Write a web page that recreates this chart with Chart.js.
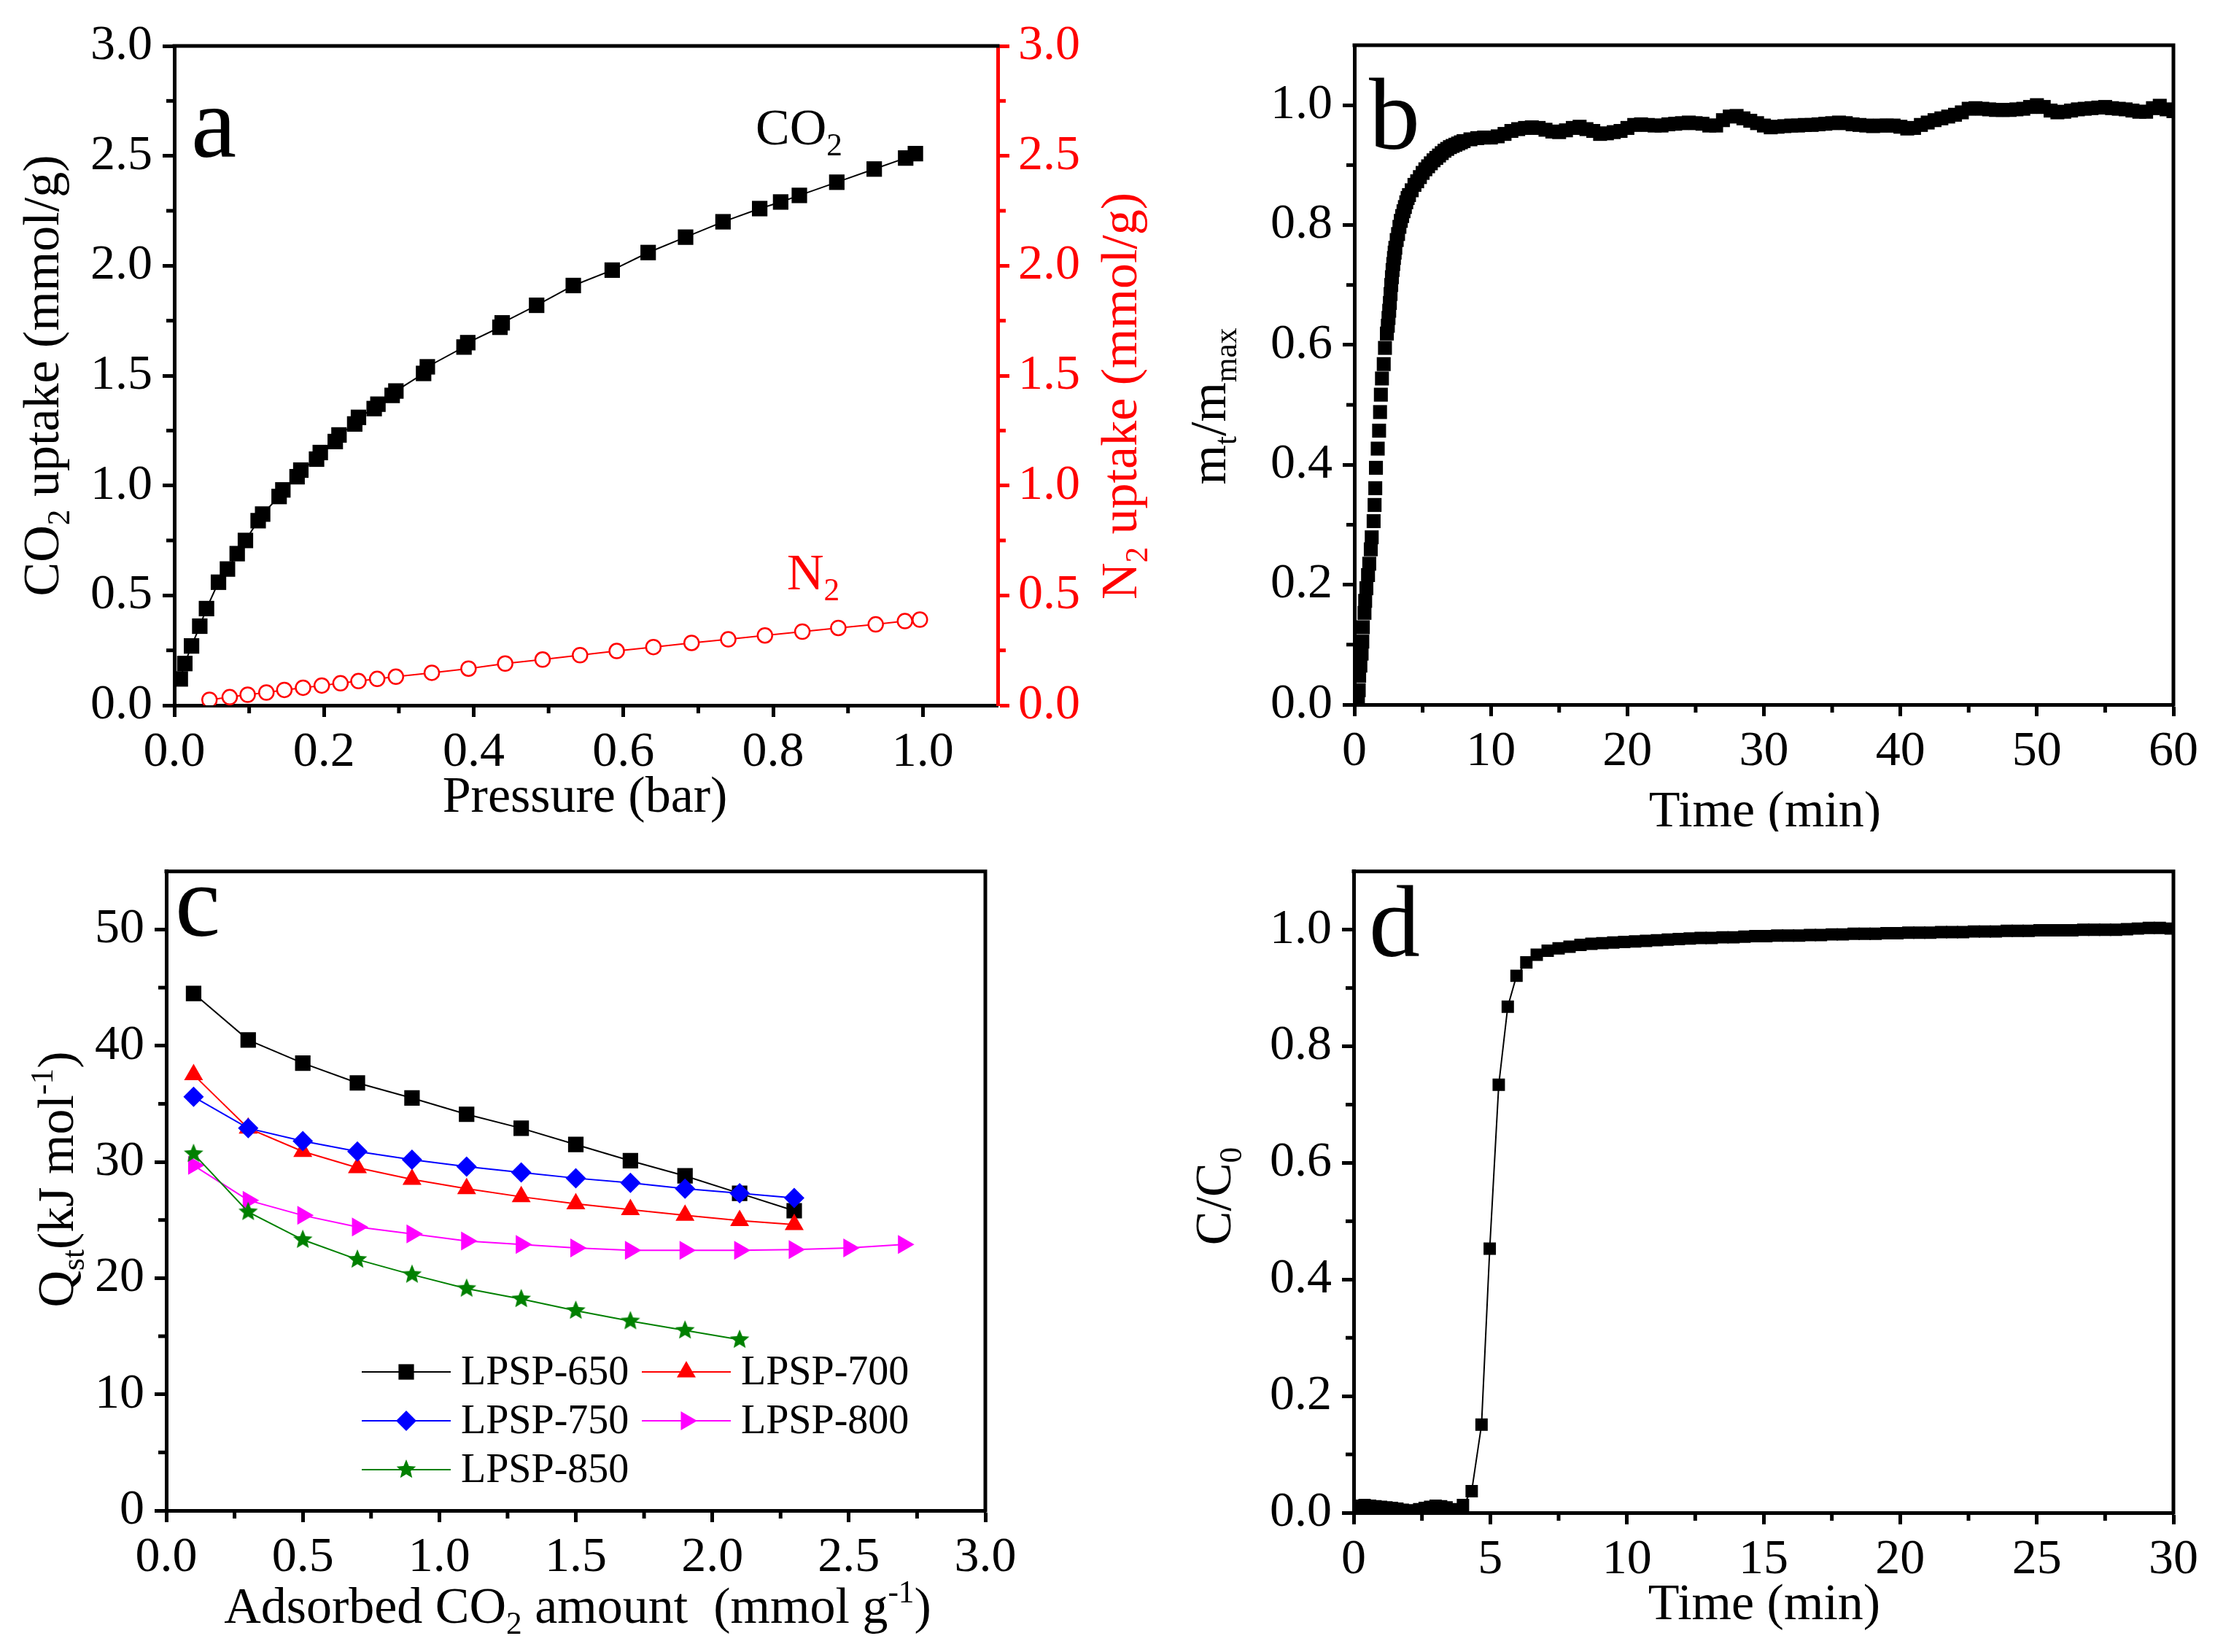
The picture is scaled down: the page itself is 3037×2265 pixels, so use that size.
<!DOCTYPE html>
<html>
<head>
<meta charset="utf-8">
<script src="https://cdn.jsdelivr.net/npm/chart.js@4.4.0/dist/chart.umd.min.js"></script>
<style>
body { margin: 0; background: #fff; width: 3037px; height: 2265px; position: relative; overflow: hidden; }
canvas { position: absolute; }
</style>
</head>
<body>
<canvas id="chartA" width="1600" height="1140" style="left:0;top:0"></canvas>
<canvas id="chartB" width="1437" height="1140" style="left:1600px;top:0"></canvas>
<canvas id="chartC" width="1600" height="1125" style="left:0;top:1140px"></canvas>
<canvas id="chartD" width="1437" height="1125" style="left:1600px;top:1140px"></canvas>
<script>
// Panel a: CO2 / N2 isotherms
var co2Pressure = [0.008, 0.014, 0.023, 0.034, 0.043, 0.059, 0.071, 0.084, 0.095, 0.112, 0.118, 0.14, 0.145, 0.164, 0.169,
    0.19, 0.195, 0.215, 0.22, 0.241, 0.246, 0.267, 0.272, 0.291, 0.296, 0.333, 0.338, 0.387, 0.392, 0.435, 0.438,
    0.484, 0.533, 0.585, 0.633, 0.683, 0.733, 0.782, 0.81, 0.835, 0.885, 0.935, 0.977, 0.99];
var co2Uptake = [0.12, 0.19, 0.27, 0.36, 0.44, 0.56, 0.62, 0.69, 0.75, 0.84, 0.87, 0.95, 0.98, 1.04, 1.07,
    1.12, 1.15, 1.20, 1.23, 1.28, 1.31, 1.35, 1.37, 1.41, 1.43, 1.51, 1.54, 1.63, 1.65, 1.72, 1.74,
    1.82, 1.91, 1.98, 2.06, 2.13, 2.20, 2.26, 2.29, 2.32, 2.38, 2.44, 2.49, 2.51];
var n2Pressure = [0.047, 0.074, 0.098, 0.123, 0.147, 0.172, 0.197, 0.222, 0.246, 0.271, 0.296, 0.344, 0.393,
    0.442, 0.492, 0.542, 0.591, 0.640, 0.691, 0.740, 0.789, 0.839, 0.887, 0.937, 0.976, 0.996];
var n2Uptake = [0.025, 0.037, 0.048, 0.058, 0.07, 0.08, 0.09, 0.1, 0.11, 0.12, 0.13, 0.148, 0.167,
    0.19, 0.208, 0.228, 0.247, 0.265, 0.284, 0.3, 0.318, 0.335, 0.352, 0.368, 0.383, 0.39];

// Panel b: uptake kinetics
var kinTime = [0.26, 0.32, 0.35, 0.44, 0.53, 0.58, 0.62, 0.74, 0.79, 0.88, 1.0, 1.09, 1.2, 1.27, 1.41, 1.48, 1.53,
    1.58, 1.71, 1.81, 1.88, 1.94, 2.02, 2.15, 2.24, 2.38,
    2.45, 2.5, 2.55, 2.6, 2.65, 2.7, 2.75, 2.8, 2.85, 2.9, 2.95, 3.0, 3.1, 3.2, 3.3, 3.4, 3.5, 3.6, 3.7, 3.8, 3.9, 4.0,
    4.2, 4.4, 4.6, 4.8, 5.0, 5.2, 5.4, 5.6, 5.8, 6.0, 6.2, 6.4, 6.6, 6.8, 7.0, 7.2, 7.4, 7.6, 7.8, 8.0,
    8.5, 9, 9.5, 10, 10.5, 11, 11.5, 12, 12.5, 13, 13.5, 14, 14.5, 15, 15.5, 16, 16.5, 17, 17.5, 18,
    18.5, 19, 19.5, 20, 20.5, 21, 21.5, 22, 22.5, 23, 23.5, 24, 24.5, 25, 25.5, 26, 26.5, 27, 27.5, 28,
    28.5, 29, 29.5, 30, 30.5, 31, 31.5, 32, 32.5, 33, 33.5, 34, 34.5, 35, 35.5, 36, 36.5, 37, 37.5, 38,
    38.5, 39, 39.5, 40, 40.5, 41, 41.5, 42, 42.5, 43, 43.5, 44, 44.5, 45, 45.5, 46, 46.5, 47, 47.5, 48,
    48.5, 49, 49.5, 50, 50.5, 51, 51.5, 52, 52.5, 53, 53.5, 54, 54.5, 55, 55.5, 56, 56.5, 57, 57.5, 58,
    58.5, 59, 59.5, 60];
var kinRatio = [0.003, 0.024, 0.048, 0.065, 0.085, 0.105, 0.129, 0.153, 0.173, 0.194, 0.216, 0.235, 0.259, 0.279, 0.306, 0.333, 0.361,
    0.395, 0.427, 0.457, 0.488, 0.517, 0.544, 0.568, 0.595, 0.619,
    0.632, 0.645, 0.657, 0.67, 0.685, 0.70, 0.713, 0.725, 0.735, 0.745, 0.754, 0.762, 0.775, 0.785, 0.797, 0.807, 0.815, 0.823, 0.83, 0.838, 0.845, 0.85,
    0.858, 0.867, 0.873, 0.88, 0.887, 0.893, 0.898, 0.903, 0.908, 0.912, 0.916, 0.92, 0.924, 0.927, 0.93, 0.932, 0.934, 0.936, 0.938, 0.94,
    0.943, 0.945, 0.946, 0.946, 0.948, 0.952, 0.957, 0.96, 0.962, 0.963, 0.962, 0.959, 0.956, 0.955, 0.958, 0.962, 0.964, 0.96, 0.957, 0.952,
    0.953, 0.955, 0.957, 0.962, 0.967, 0.968, 0.967, 0.966, 0.966, 0.968, 0.969, 0.97, 0.971, 0.97, 0.969, 0.966, 0.966, 0.975, 0.981, 0.982,
    0.978, 0.974, 0.97, 0.966, 0.963, 0.964, 0.965, 0.966, 0.966, 0.967, 0.967, 0.968, 0.969, 0.97, 0.971, 0.97, 0.968, 0.967, 0.966, 0.965,
    0.966, 0.966, 0.966, 0.964, 0.961, 0.962, 0.967, 0.971, 0.975, 0.978, 0.981, 0.984, 0.988, 0.994, 0.995, 0.994, 0.993, 0.992, 0.992, 0.992,
    0.993, 0.994, 0.997, 1.0, 0.997, 0.991, 0.988, 0.989, 0.991, 0.993, 0.994, 0.995, 0.996, 0.997, 0.995, 0.994, 0.993, 0.991, 0.989, 0.989,
    0.995, 0.999, 0.993, 0.99];

// Panel c: isosteric heat
var qstLoading = [0.1, 0.3, 0.5, 0.7, 0.9, 1.1, 1.3, 1.5, 1.7, 1.9, 2.1, 2.3, 2.5, 2.7];
var qst650 = [44.5, 40.5, 38.5, 36.8, 35.5, 34.1, 32.9, 31.5, 30.1, 28.8, 27.3, 25.8];
var qst700 = [37.5, 32.9, 30.9, 29.5, 28.5, 27.7, 27.0, 26.4, 25.9, 25.4, 24.95, 24.6];
var qst750 = [35.6, 32.9, 31.8, 30.9, 30.2, 29.6, 29.1, 28.6, 28.2, 27.7, 27.3, 26.9];
var qst800 = [29.7, 26.7, 25.4, 24.4, 23.8, 23.2, 22.9, 22.6, 22.4, 22.4, 22.4, 22.45, 22.6, 22.9];
var qst850 = [30.7, 25.7, 23.3, 21.6, 20.3, 19.1, 18.2, 17.2, 16.3, 15.5, 14.7];
var qstNames = ['LPSP-650', 'LPSP-700', 'LPSP-750', 'LPSP-800', 'LPSP-850'];

// Panel d: breakthrough curve
var btTime = [0.2, 0.4, 0.6, 0.8, 1.0, 1.2, 1.4, 1.6, 1.8, 2.0, 2.2, 2.4, 2.6, 2.8, 3.0, 3.2, 3.4, 3.6, 3.8, 4.0,
    4.32, 4.68, 4.98, 5.31, 5.64, 5.96, 6.32,
    6.7, 7.1, 7.5, 7.9, 8.3, 8.7, 9.1, 9.5, 9.9, 10.3, 10.7, 11.1, 11.5, 11.9, 12.3, 12.7, 13.1, 13.5, 13.9, 14.3,
    14.7, 15.1, 15.5, 15.9, 16.3, 16.7, 17.1, 17.5, 17.9, 18.3, 18.7, 19.1, 19.5, 19.9, 20.3, 20.7, 21.1, 21.5,
    21.9, 22.3, 22.7, 23.1, 23.5, 23.9, 24.3, 24.7, 25.1, 25.5, 25.9, 26.3, 26.7, 27.1, 27.5, 27.9, 28.3, 28.7,
    29.1, 29.5, 29.9];
var btRatio = [0.012, 0.013, 0.012, 0.011, 0.010, 0.009, 0.008, 0.007, 0.005, 0.003, 0.004, 0.006, 0.008, 0.010, 0.012, 0.011, 0.009, 0.006, 0.004, 0.013,
    0.037, 0.151, 0.453, 0.734, 0.868, 0.921, 0.944,
    0.957, 0.964, 0.968, 0.971, 0.974, 0.976, 0.977, 0.978, 0.979, 0.980, 0.981, 0.982, 0.983, 0.984, 0.985, 0.986, 0.986, 0.987, 0.987, 0.988,
    0.989, 0.989, 0.990, 0.990, 0.990, 0.991, 0.991, 0.992, 0.992, 0.993, 0.993, 0.993, 0.994, 0.994, 0.995, 0.995, 0.995, 0.996,
    0.996, 0.996, 0.997, 0.997, 0.997, 0.998, 0.998, 0.998, 0.999, 0.999, 0.999, 0.999, 1.0, 1.0, 1.0, 1.0, 1.001, 1.002,
    1.003, 1.003, 1.002];

var FONT = 'Liberation Serif';
Chart.defaults.font.family = '"' + FONT + '"';
Chart.defaults.color = '#000';

function pts(xs, ys) {
    return ys.map(function(y, i) { return {x: xs[i], y: y}; });
}
function fmt1(v) { return v.toFixed(1); }
function fmt0(v) { return v.toFixed(0); }
function fixWidth(w) { return function(s) { s.width = w; }; }
function fixHeight(h) { return function(s) { s.height = h; }; }

function axis(o) {
    var color = o.color || '#000';
    return {
        type: 'linear', position: o.position, min: o.min, max: o.max,
        afterFit: o.afterFit,
        border: {display: true, color: color, width: 5},
        grid: {display: true, drawOnChartArea: false, drawTicks: true, tickLength: 16, tickWidth: 5, tickColor: color},
        ticks: {stepSize: o.step, includeBounds: false, autoSkip: false, maxRotation: 0, color: color,
                font: {family: '"' + FONT + '"', size: 68}, padding: o.pad, callback: o.fmt}
    };
}

// top/right frame and the minor ticks
var framePlugin = {
    id: 'frame',
    afterDraw: function(chart, args, o) {
        var ctx = chart.ctx, a = chart.chartArea;
        ctx.save();
        ctx.lineWidth = 5;
        ctx.strokeStyle = '#000';
        ctx.beginPath();
        ctx.moveTo(a.left - 2.5, a.top);
        ctx.lineTo(a.right + 2.5, a.top);
        if (!o.noRight) {
            ctx.moveTo(a.right, a.top);
            ctx.lineTo(a.right, a.bottom + 2.5);
        }
        ctx.stroke();
        (o.minor || []).forEach(function(m) {
            var s = chart.scales[m.id];
            ctx.strokeStyle = m.color || '#000';
            for (var k = 1; ; k++) {
                var v = s.min + k * m.step;
                if (v > s.max - 1e-9) break;
                if (Math.abs(v / m.major - Math.round(v / m.major)) < 1e-6) continue;
                var p = s.getPixelForValue(v);
                ctx.beginPath();
                if (s.axis === 'x') { ctx.moveTo(p, a.bottom); ctx.lineTo(p, a.bottom + 11); }
                else if (s.position === 'left') { ctx.moveTo(a.left, p); ctx.lineTo(a.left - 11, p); }
                else { ctx.moveTo(a.right, p); ctx.lineTo(a.right + 11, p); }
                ctx.stroke();
            }
        });
        ctx.restore();
    }
};

// titles with sub/superscripts, panel letters and notes
function drawRich(ctx, it) {
    var size = it.size || 70;
    var fonts = [], widths = [], total = 0;
    it.parts.forEach(function(p) {
        var f = (p[1] ? size * 0.62 : size) + 'px "' + FONT + '"';
        ctx.font = f;
        var w = ctx.measureText(p[0]).width;
        fonts.push(f); widths.push(w); total += w;
    });
    ctx.save();
    ctx.translate(it.x, it.y);
    if (it.rotate) ctx.rotate(-Math.PI / 2);
    ctx.fillStyle = it.color || '#000';
    ctx.textBaseline = 'alphabetic';
    ctx.textAlign = 'left';
    var x = it.align === 'left' ? 0 : -total / 2;
    it.parts.forEach(function(p, i) {
        ctx.font = fonts[i];
        var dy = p[1] === 1 ? size * 0.22 : (p[1] === 2 ? -size * 0.4 : 0);
        ctx.fillText(p[0], x, dy);
        x += widths[i];
    });
    ctx.restore();
}
var richPlugin = {
    id: 'rich',
    afterDraw: function(chart, args, o) {
        (o.items || []).forEach(function(it) { drawRich(chart.ctx, it); });
    }
};

// legend box of panel c, drawn inside the plot
var boxLegendPlugin = {
    id: 'boxLegend',
    afterDraw: function(chart, args, o) {
        var ctx = chart.ctx;
        (o.items || []).forEach(function(it) {
            var ds = chart.data.datasets[it.ds];
            ctx.save();
            ctx.strokeStyle = ds.borderColor;
            ctx.lineWidth = 2;
            ctx.beginPath();
            ctx.moveTo(it.x, it.y);
            ctx.lineTo(it.x + 122, it.y);
            ctx.stroke();
            ctx.fillStyle = ds.pointBackgroundColor;
            ctx.strokeStyle = ds.pointBackgroundColor;
            Chart.helpers.drawPoint(ctx, {pointStyle: ds.pointStyle, radius: ds.pointRadius,
                rotation: ds.pointRotation || 0, borderWidth: 0}, it.x + 61, it.y);
            ctx.fillStyle = '#000';
            ctx.font = '56px "' + FONT + '"';
            ctx.textBaseline = 'middle';
            ctx.fillText(qstNames[it.ds], it.x + 136, it.y + 2);
            ctx.restore();
        });
    }
};

function starImage(r, color) {
    var c = document.createElement('canvas');
    c.width = c.height = 2 * r + 2;
    var g = c.getContext('2d');
    g.fillStyle = color;
    g.beginPath();
    for (var k = 0; k < 10; k++) {
        var rad = k % 2 ? r * 0.45 : r;
        var ang = -Math.PI / 2 + k * Math.PI / 5;
        g.lineTo(r + 1 + rad * Math.cos(ang), r + 1 + rad * Math.sin(ang));
    }
    g.closePath();
    g.fill();
    return c;
}

var common = {
    responsive: false,
    animation: false,
    events: []
};

/// a: isotherms
new Chart(document.getElementById('chartA'), {
    type: 'scatter',
    data: {
        datasets: [{
            data: pts(co2Pressure, co2Uptake), yAxisID: 'y', showLine: true,
            borderColor: '#000', borderWidth: 2,
            pointStyle: 'rect', pointRadius: 15, pointBackgroundColor: '#000', pointBorderWidth: 0
        }, {
            data: pts(n2Pressure, n2Uptake), yAxisID: 'y2', showLine: true,
            borderColor: '#f00', borderWidth: 2,
            pointStyle: 'circle', pointRadius: 10, pointBackgroundColor: '#fff',
            pointBorderColor: '#f00', pointBorderWidth: 2.5
        }]
    },
    options: Object.assign({}, common, {
        layout: {padding: {top: 63}},
        plugins: {
            legend: {display: false}, tooltip: {enabled: false},
            frame: {noRight: true, minor: [
                {id: 'x', step: 0.1, major: 0.2},
                {id: 'y', step: 0.25, major: 0.5},
                {id: 'y2', step: 0.25, major: 0.5, color: '#f00'}
            ]},
            rich: {items: [
                {parts: [['Pressure (bar)', 0]], x: 802, y: 1113},
                {parts: [['CO', 0], ['2', 1], [' uptake (mmol/g)', 0]], x: 80, y: 515, rotate: true},
                {parts: [['N', 0], ['2', 1], [' uptake (mmol/g)', 0]], x: 1558, y: 543, rotate: true, color: '#f00'},
                {parts: [['a', 0]], x: 262, y: 215, size: 140, align: 'left'},
                {parts: [['CO', 0], ['2', 1]], x: 1036, y: 198, align: 'left'},
                {parts: [['N', 0], ['2', 1]], x: 1079, y: 808, align: 'left', color: '#f00'}
            ]}
        },
        scales: {
            x: axis({position: 'bottom', min: 0, max: 1.1, step: 0.2, fmt: fmt1, pad: 8, afterFit: fixHeight(173)}),
            y: axis({position: 'left', min: 0, max: 3, step: 0.5, fmt: fmt1, pad: 14, afterFit: fixWidth(239)}),
            y2: axis({position: 'right', min: 0, max: 3, step: 0.5, fmt: fmt1, pad: 12, color: '#f00', afterFit: fixWidth(232)})
        }
    }),
    plugins: [framePlugin, richPlugin]
});

/// b: kinetics
new Chart(document.getElementById('chartB'), {
    type: 'scatter',
    data: {
        datasets: [{
            data: pts(kinTime, kinRatio), showLine: false,
            pointStyle: 'rect', pointRadius: 13.5, pointBackgroundColor: '#000', pointBorderWidth: 0
        }]
    },
    options: Object.assign({}, common, {
        layout: {padding: {top: 62, right: 57}},
        plugins: {
            legend: {display: false}, tooltip: {enabled: false},
            frame: {minor: [
                {id: 'x', step: 5, major: 10},
                {id: 'y', step: 0.1, major: 0.2}
            ]},
            rich: {items: [
                {parts: [['Time (min)', 0]], x: 820, y: 1133},
                {parts: [['m', 0], ['t', 1], ['/m', 0], ['max', 1]], x: 80, y: 557, rotate: true},
                {parts: [['b', 0]], x: 277, y: 204, size: 140, align: 'left'}
            ]}
        },
        scales: {
            x: axis({position: 'bottom', min: 0, max: 60, step: 10, fmt: fmt0, pad: 8, afterFit: fixHeight(174)}),
            y: axis({position: 'left', min: 0, max: 1.1, step: 0.2, fmt: fmt1, pad: 14, afterFit: fixWidth(257)})
        }
    }),
    plugins: [framePlugin, richPlugin]
});

/// c: isosteric heat of adsorption
var star = starImage(14, '#008000');
new Chart(document.getElementById('chartC'), {
    type: 'scatter',
    data: {
        datasets: [{
            data: pts(qstLoading, qst650), showLine: true, order: 5,
            borderColor: '#000', borderWidth: 2,
            pointStyle: 'rect', pointRadius: 15, pointBackgroundColor: '#000', pointBorderWidth: 0
        }, {
            data: pts(qstLoading, qst700), showLine: true, order: 4,
            borderColor: '#f00', borderWidth: 2,
            pointStyle: 'triangle', pointRadius: 15, pointBackgroundColor: '#f00', pointBorderWidth: 0
        }, {
            data: pts(qstLoading, qst750), showLine: true, order: 3,
            borderColor: '#00f', borderWidth: 2,
            pointStyle: 'rectRot', pointRadius: 14, pointBackgroundColor: '#00f', pointBorderWidth: 0
        }, {
            data: pts(qstLoading, qst800), showLine: true, order: 2,
            borderColor: '#f0f', borderWidth: 2,
            pointStyle: 'triangle', pointRotation: 90, pointRadius: 15, pointBackgroundColor: '#f0f', pointBorderWidth: 0
        }, {
            data: pts(qstLoading, qst850), showLine: true, order: 1,
            borderColor: '#008000', borderWidth: 2,
            pointStyle: star, pointRadius: 14, pointBackgroundColor: '#008000', pointBorderWidth: 0
        }]
    },
    options: Object.assign({}, common, {
        layout: {padding: {top: 24, right: 249}},
        plugins: {
            legend: {display: false}, tooltip: {enabled: false},
            frame: {minor: [
                {id: 'x', step: 0.25, major: 0.5},
                {id: 'y', step: 5, major: 10}
            ]},
            boxLegend: {items: [
                {ds: 0, x: 496, y: 741}, {ds: 1, x: 880, y: 741},
                {ds: 2, x: 496, y: 808}, {ds: 3, x: 880, y: 808},
                {ds: 4, x: 496, y: 875}
            ]},
            rich: {items: [
                {parts: [['Adsorbed CO', 0], ['2', 1], [' amount  (mmol g', 0], ['-1', 2], [')', 0]], x: 792, y: 1085},
                {parts: [['Q', 0], ['st', 1], ['(kJ mol', 0], ['-1', 2], [')', 0]], x: 100, y: 477, rotate: true},
                {parts: [['c', 0]], x: 240, y: 143, size: 140, align: 'left'}
            ]}
        },
        scales: {
            x: axis({position: 'bottom', min: 0, max: 3, step: 0.5, fmt: fmt1, pad: 8, afterFit: fixHeight(194)}),
            y: axis({position: 'left', min: 0, max: 55, step: 10, fmt: fmt0, pad: 14, afterFit: fixWidth(228)})
        }
    }),
    plugins: [framePlugin, richPlugin, boxLegendPlugin]
});

/// d: breakthrough
new Chart(document.getElementById('chartD'), {
    type: 'scatter',
    data: {
        datasets: [{
            data: pts(btTime, btRatio), showLine: true,
            borderColor: '#000', borderWidth: 2,
            pointStyle: 'rect', pointRadius: 12, pointBackgroundColor: '#000', pointBorderWidth: 0
        }]
    },
    options: Object.assign({}, common, {
        layout: {padding: {top: 28, right: 57}},
        plugins: {
            legend: {display: false}, tooltip: {enabled: false},
            frame: {minor: [
                {id: 'x', step: 2.5, major: 5},
                {id: 'y', step: 0.1, major: 0.2}
            ]},
            rich: {items: [
                {parts: [['Time (min)', 0]], x: 819, y: 1080},
                {parts: [['C/C', 0], ['0', 1]], x: 87, y: 500, rotate: true},
                {parts: [['d', 0]], x: 277, y: 171, size: 140, align: 'left'}
            ]}
        },
        scales: {
            x: axis({position: 'bottom', min: 0, max: 30, step: 5, fmt: fmt0, pad: 8, afterFit: fixHeight(191)}),
            y: axis({position: 'left', min: 0, max: 1.1, step: 0.2, fmt: fmt1, pad: 14, afterFit: fixWidth(256)})
        }
    }),
    plugins: [framePlugin, richPlugin]
});
</script>
</body>
</html>
